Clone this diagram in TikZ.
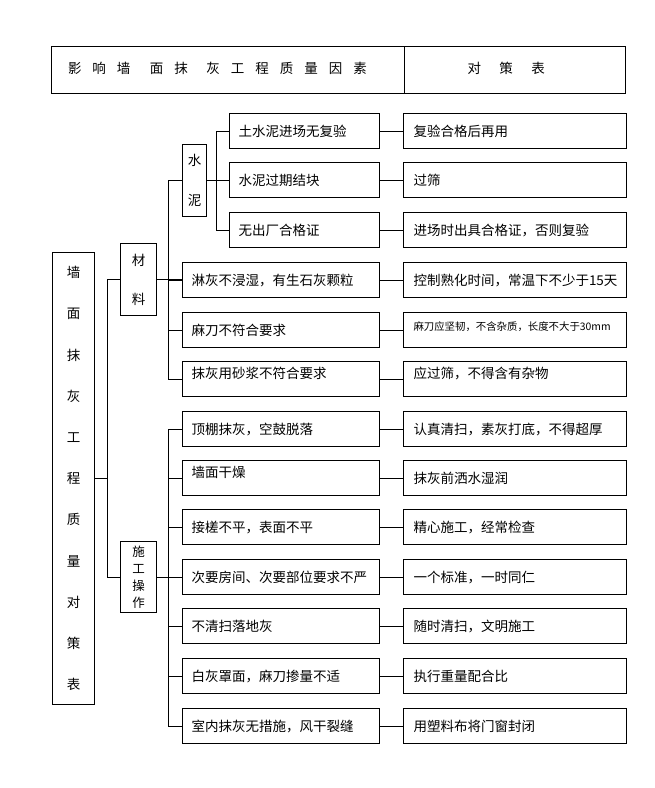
\documentclass[tikz,border=0pt]{standalone}
\usepackage{fontspec}
\setmainfont{Noto Sans CJK SC}
\begin{document}
\begin{tikzpicture}[x=1pt,y=-1pt,line width=1pt,
  base/.style={draw,line width=1pt,anchor=north west,inner ysep=0pt},
  box/.style={base,inner xsep=9pt,minimum height=35pt,align=left,
    font=\fontsize{13.5}{16}\selectfont,text height=12.2pt,text depth=2pt},
  cbox/.style={box,minimum width=150pt,text width=132pt},
  lbox/.style={box,minimum width=197pt,text width=179pt},
  rbox/.style={box,minimum width=222pt,text width=203pt,inner xsep=10pt},
  raised/.style={text height=12.2pt,text depth=14pt},
  vbox/.style={base,inner xsep=0pt,align=center},
  head/.style={base,minimum height=47pt,align=left,
    font=\fontsize{13.5}{16}\selectfont,text height=12.2pt,text depth=5pt},
  conn/.style={line width=1pt}
]
\useasboundingbox (0,0) rectangle (654,788);

% header
\node[head,minimum width=353pt,inner xsep=16.5pt,text width=320pt] (hl) at (51,46)
  {影\hspace{11pt}响\hspace{11pt}墙\hspace{19.5pt}面\hspace{11pt}抹\hspace{18.5pt}灰\hspace{11pt}工\hspace{11pt}程\hspace{11pt}质\hspace{11pt}量\hspace{11pt}因\hspace{11pt}素};
\node[head,minimum width=221pt,inner xsep=63pt,text width=95pt] (hr) at (404,46)
  {对\hspace{18.5pt}策\hspace{18.5pt}表};

% vertical boxes
\node[vbox,minimum width=42pt,minimum height=452pt,font=\fontsize{13.5}{41.2}\selectfont] (w) at (52,252)
  {墙\\面\\抹\\灰\\工\\程\\质\\量\\对\\策\\表};
\node[vbox,minimum width=36pt,minimum height=72pt,font=\fontsize{13.5}{39}\selectfont] (cl) at (120,243)
  {材\\料};
\node[vbox,minimum width=36pt,minimum height=71pt,font=\fontsize{12.5}{17}\selectfont] (sg) at (120,541)
  {施\\工\\操\\作};
\node[vbox,minimum width=24pt,minimum height=72pt,font=\fontsize{13.5}{40}\selectfont] (sn) at (182,144)
  {水\\泥};

% left boxes
\node[cbox] (c1) at (229,113) {土水泥进场无复验};
\node[cbox] (c2) at (229,162) {水泥过期结块};
\node[cbox] (c3) at (229,212) {无出厂合格证};
\node[lbox] (m1) at (182,262) {淋灰不浸湿，有生石灰颗粒};
\node[lbox] (m2) at (182,312) {麻刀不符合要求};
\node[lbox,raised] (m3) at (182,361) {抹灰用砂浆不符合要求};
\node[lbox] (s1) at (182,411) {顶棚抹灰，空鼓脱落};
\node[lbox,raised] (s2) at (182,460) {墙面干燥};
\node[lbox] (s3) at (182,509) {接槎不平，表面不平};
\node[lbox] (s4) at (182,559) {次要房间、次要部位要求不严};
\node[lbox] (s5) at (182,608) {不清扫落地灰};
\node[lbox] (s6) at (182,658) {白灰罩面，麻刀掺量不适};
\node[lbox] (s7) at (182,708) {室内抹灰无措施，风干裂缝};

% right boxes
\node[rbox] (r1) at (403,113) {复验合格后再用};
\node[rbox] (r2) at (403,162) {过筛};
\node[rbox] (r3) at (403,212) {进场时出具合格证，否则复验};
\node[rbox] (r4) at (403,262) {控制熟化时间，常温下不少于15天};
\node[rbox,font=\fontsize{10.4}{13}\selectfont,text height=8.6pt,text depth=7.4pt] (r5) at (403,312) {麻刀应坚韧，不含杂质，长度不大于30mm};
\node[rbox,raised] (r6) at (403,361) {应过筛，不得含有杂物};
\node[rbox] (r7) at (403,411) {认真清扫，素灰打底，不得超厚};
\node[rbox] (r8) at (403,460) {抹灰前洒水湿润};
\node[rbox] (r9) at (403,509) {精心施工，经常检查};
\node[rbox] (r10) at (403,559) {一个标准，一时同仁};
\node[rbox] (r11) at (403,608) {随时清扫，文明施工};
\node[rbox] (r12) at (403,658) {执行重量配合比};
\node[rbox] (r13) at (403,708) {用塑料布将门窗封闭};

% left-right connectors
\foreach \a/\b in {c1/r1,c2/r2,c3/r3,m1/r4,m2/r5,m3/r6,s1/r7,s2/r8,s3/r9,s4/r10,s5/r11,s6/r12,s7/r13}
  \draw[conn] (\a.east) -- (\b.west);

% cement bracket
\draw[conn] (c1.west) -- ++(-13,0) |- (c3.west);
\draw[conn] (sn.east) -- (sn.east -| c2.west);

% materials bracket
\draw[conn] (sn.west) -- ++(-14,0) |- (m3.west);
\draw[conn] (m1.west) -- ++(-14,0);
\draw[conn] (m2.west) -- ++(-14,0);
\draw[conn] (cl.east) -- (cl.east -| m1.west);

% construction bracket
\draw[conn] (s1.west) -- ++(-14,0) |- (s7.west);
\foreach \n in {s2,s3,s5,s6} \draw[conn] (\n.west) -- ++(-14,0);
\draw[conn] (sg.east) -- (sg.east -| s4.west);

% main bracket
\draw[conn] (cl.west) -- ++(-13,0) |- (sg.west);
\draw[conn] (w.east) -- ++(13,0);
\end{tikzpicture}
\end{document}
